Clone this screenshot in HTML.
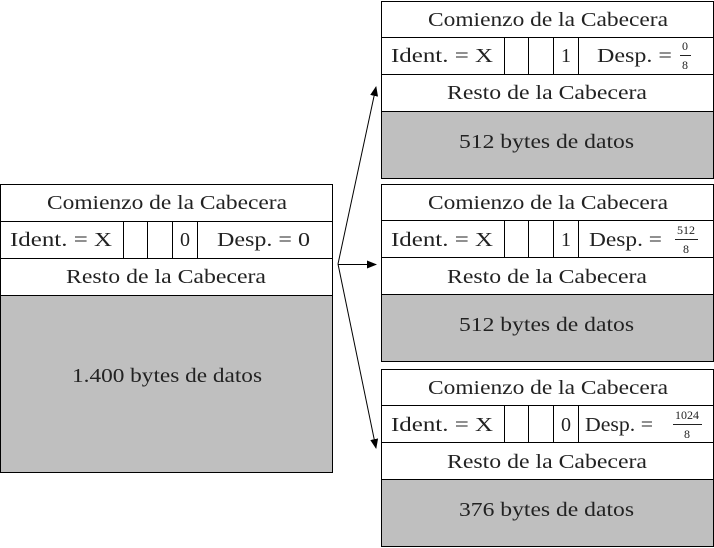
<!DOCTYPE html>
<html><head><style>body{margin:0;background:#fff}svg{display:block}text{font-family:"Liberation Serif",serif;font-size:20px;fill:#222}</style></head><body>
<svg width="714" height="548" xmlns="http://www.w3.org/2000/svg">
<defs><marker id="a" markerWidth="10" markerHeight="8" refX="9" refY="4" orient="auto" markerUnits="userSpaceOnUse"><path d="M0,0 L10,4 L0,8 z" fill="#000"/></marker></defs>
<g stroke="#000" stroke-width="1" fill="none">
<rect x="0.5" y="295.5" width="332" height="177" fill="#bfbfbf"/>
<rect x="0.5" y="184.5" width="332" height="288"/>
<line x1="0" y1="221.5" x2="333" y2="221.5"/><line x1="0" y1="258.5" x2="333" y2="258.5"/><line x1="0" y1="295.5" x2="333" y2="295.5"/>
<line x1="123.5" y1="221" x2="123.5" y2="258"/><line x1="147.5" y1="221" x2="147.5" y2="258"/><line x1="172.5" y1="221" x2="172.5" y2="258"/><line x1="197.5" y1="221" x2="197.5" y2="258"/>
<g id="b1">
<rect x="381.5" y="111.5" width="332" height="67" fill="#bfbfbf"/>
<rect x="381.5" y="1.5" width="332" height="177"/>
<line x1="381" y1="37.5" x2="714" y2="37.5"/><line x1="381" y1="74.5" x2="714" y2="74.5"/><line x1="381" y1="111.5" x2="714" y2="111.5"/>
<line x1="504.5" y1="37" x2="504.5" y2="74"/><line x1="528.5" y1="37" x2="528.5" y2="74"/><line x1="553.5" y1="37" x2="553.5" y2="74"/><line x1="578.5" y1="37" x2="578.5" y2="74"/>
</g>
<use href="#b1" y="183"/>
<use href="#b1" y="368"/>
<line x1="338" y1="264" x2="376" y2="87" marker-end="url(#a)"/>
<line x1="338" y1="264.5" x2="376" y2="264.5" marker-end="url(#a)"/>
<line x1="338" y1="264" x2="376" y2="448" marker-end="url(#a)"/>
</g>
<g>
<text x="47" y="209" textLength="240" lengthAdjust="spacingAndGlyphs">Comienzo de la Cabecera</text>
<text x="10" y="246" textLength="102" lengthAdjust="spacingAndGlyphs">Ident. = X</text><text x="180" y="246">0</text><text x="217" y="246" textLength="93" lengthAdjust="spacingAndGlyphs">Desp. = 0</text>
<text x="66" y="283" textLength="200" lengthAdjust="spacingAndGlyphs">Resto de la Cabecera</text>
<text x="72" y="382" textLength="190" lengthAdjust="spacingAndGlyphs">1.400 bytes de datos</text>

<text x="428" y="26" textLength="240" lengthAdjust="spacingAndGlyphs">Comienzo de la Cabecera</text>
<text x="391" y="62" textLength="102" lengthAdjust="spacingAndGlyphs">Ident. = X</text><text x="561" y="62">1</text><text x="597" y="62" textLength="75" lengthAdjust="spacingAndGlyphs">Desp. =</text>
<text x="685" y="50" text-anchor="middle" style="font-size:12px">0</text><line x1="680" y1="55.5" x2="691" y2="55.5" stroke="#222"/><text x="685" y="69" text-anchor="middle" style="font-size:12px">8</text>
<text x="447" y="99" textLength="200" lengthAdjust="spacingAndGlyphs">Resto de la Cabecera</text>
<text x="459" y="148" textLength="175" lengthAdjust="spacingAndGlyphs">512 bytes de datos</text>

<text x="428" y="209" textLength="240" lengthAdjust="spacingAndGlyphs">Comienzo de la Cabecera</text>
<text x="391" y="246" textLength="102" lengthAdjust="spacingAndGlyphs">Ident. = X</text><text x="561" y="246">1</text><text x="589" y="246" textLength="73" lengthAdjust="spacingAndGlyphs">Desp. =</text>
<text x="686" y="234" text-anchor="middle" style="font-size:12px">512</text><line x1="675" y1="239.5" x2="698" y2="239.5" stroke="#222"/><text x="686" y="253" text-anchor="middle" style="font-size:12px">8</text>
<text x="447" y="283" textLength="200" lengthAdjust="spacingAndGlyphs">Resto de la Cabecera</text>
<text x="459" y="331" textLength="175" lengthAdjust="spacingAndGlyphs">512 bytes de datos</text>

<text x="428" y="394" textLength="240" lengthAdjust="spacingAndGlyphs">Comienzo de la Cabecera</text>
<text x="391" y="431" textLength="102" lengthAdjust="spacingAndGlyphs">Ident. = X</text><text x="561" y="431">0</text><text x="585" y="431" textLength="68" lengthAdjust="spacingAndGlyphs">Desp. =</text>
<text x="687" y="419" text-anchor="middle" style="font-size:12px">1024</text><line x1="673" y1="424.5" x2="702" y2="424.5" stroke="#222"/><text x="687" y="438" text-anchor="middle" style="font-size:12px">8</text>
<text x="447" y="468" textLength="200" lengthAdjust="spacingAndGlyphs">Resto de la Cabecera</text>
<text x="459" y="516" textLength="175" lengthAdjust="spacingAndGlyphs">376 bytes de datos</text>
</g>
</svg>
</body></html>
